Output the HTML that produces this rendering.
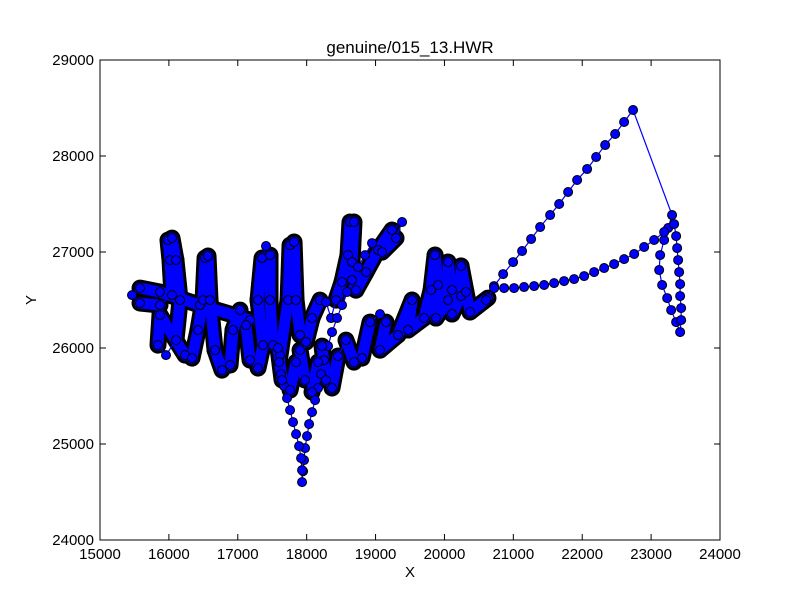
<!DOCTYPE html>
<html><head><meta charset="utf-8"><style>
body{margin:0;background:#fff}
svg text{font-family:"Liberation Sans",sans-serif;fill:#000}
</style></head><body>
<svg id="chart" width="800" height="600" xmlns="http://www.w3.org/2000/svg">
<rect x="0" y="0" width="800" height="600" fill="#fff"/>
<text x="410" y="53" font-size="17" text-anchor="middle">genuine/015_13.HWR</text>
<text x="410" y="577" font-size="15" text-anchor="middle">X</text>
<text x="36" y="300" font-size="15" text-anchor="middle" transform="rotate(-90 36 300)">Y</text>
<g id="plot"></g>
<g id="axes"></g>
</svg>
<script>
const xTicks=[15000,16000,17000,18000,19000,20000,21000,22000,23000,24000];
const yTicks=[24000,25000,26000,27000,28000,29000];
const xs=[17178,16452,15871,15581,15465,15581,15871,16045,16016,15987,16045,16103,16162,16103,15958,15842,15871,
16234,16336,16423,16496,16525,16568,16597,16670,16771,16888,16931,17033,17120,17178,17294,17367,17294,17352,17410,17468,17468,17512,17614,17730,17759,17817,17846,17904,17991,18078,18194,18281,18354,18426,18513,18600,18629,18687,18658,18716,18862,19036,19239,19385,19297,19094,
18949,18848,18746,18658,18586,18513,18441,18368,18310,18252,18209,18165,18122,18078,18035,18005,17977,17962,17948,17933,
17933,17919,17890,17846,17802,17759,17715,17672,17628,17599,17584,
17643,17759,17846,17904,17977,18078,18165,18223,18281,18368,18455,18571,18687,18804,18920,19065,
19152,19065,19326,19530,19472,19704,19806,19864,19907,19878,20052,20052,20110,20110,20241,20241,20313,20371,20632,20719,
20852,20997,21127,21258,21389,21534,21665,21795,21926,22071,22202,22333,22478,22608,22738,
23304,23247,23189,23131,23117,23160,23233,23291,23363,23421,23436,23436,23421,23421,23407,23392,23378,23363,23334,
23189,23044,22899,22754,22608,22463,22318,22173,22028,21882,21737,21592,21447,21302,21156,21011,20866,20721,20604];
const ys=[26291,26447,26582,26624,26551,26468,26447,26551,26916,27124,27145,26916,26499,26082,25926,26030,26343,
25926,25895,26187,26499,26937,26958,26499,25978,25770,25822,26187,26395,26239,25874,25791,26030,26499,26937,27062,26968,26499,26030,25926,26499,27072,27104,26499,26135,26062,26312,26499,26478,26312,26499,26687,26968,27312,27312,26895,26603,26791,27020,27229,27312,27145,26999,
27093,26968,26843,26708,26583,26447,26312,26166,26020,25874,25728,25582,25457,25332,25207,25082,24957,24832,24717,24603,
24728,24853,24978,25103,25228,25353,25478,25603,25728,25853,26000,
25666,25561,25853,25978,25666,25541,25853,26020,25666,25583,25916,26082,25853,25895,26270,26353,
26270,25978,26135,26499,26187,26312,26604,26968,26656,26312,26499,26895,26604,26354,26541,26854,26583,26375,26520,26645,
26770,26895,27010,27135,27260,27385,27500,27625,27750,27864,27989,28114,28229,28354,28479,
27385,27250,27125,26968,26812,26656,26520,26395,26270,26166,26291,26416,26541,26666,26791,26916,27041,27166,27291,
27208,27125,27052,26979,26926,26874,26833,26791,26749,26718,26697,26676,26656,26645,26635,26624,26624,26624,26499];
const NS="http://www.w3.org/2000/svg";
const L=100,R=720,T=60,B=540;
const sx=v=>L+(v-15000)/9000*(R-L);
const sy=v=>B-(v-24000)/5000*(B-T);
const plot=document.getElementById('plot'),axes=document.getElementById('axes');
function mk(tag,attrs,parent){const e=document.createElementNS(NS,tag);for(const k in attrs)e.setAttribute(k,attrs[k]);parent.appendChild(e);return e;}
const n=Math.min(xs.length,ys.length);
const gk=mk('g',{},plot);


const gb=mk('g',{},plot);


for(let i=1;i<n;i++){
  const x1=sx(xs[i-1]),y1=sy(ys[i-1]),x2=sx(xs[i]),y2=sy(ys[i]);
  const d=Math.hypot(x2-x1,y2-y1);
  if(d>19&&d<80){
    mk('line',{x1,y1,x2,y2,stroke:'#000','stroke-width':17,'stroke-linecap':'round'},gk);
    mk('line',{x1,y1,x2,y2,stroke:'#0000ff','stroke-width':11,'stroke-linecap':'round'},gb);
  }
}
let pts='';for(let i=0;i<n;i++)pts+=sx(xs[i])+','+sy(ys[i])+' ';
const line=mk('polyline',{points:pts,fill:'none',stroke:'#0000ff','stroke-width':1.2},plot);


for(let i=0;i<n;i++){
  const c=mk('circle',{cx:sx(xs[i]),cy:sy(ys[i]),r:4.5,fill:'#0000ff',stroke:'#000','stroke-width':1},plot);
  
  
}
const frame=mk('rect',{x:L,y:T,width:R-L,height:B-T,fill:'none',stroke:'#000','stroke-width':1},axes);


xTicks.forEach(v=>{
  const x=sx(v);
  mk('line',{x1:x,y1:B,x2:x,y2:B-6,stroke:'#000'},axes);
  mk('line',{x1:x,y1:T,x2:x,y2:T+6,stroke:'#000'},axes);
  const t=mk('text',{x:x,y:B+19,'font-size':15,'text-anchor':'middle'},axes);
  t.textContent=v;
  
  
});
yTicks.forEach(v=>{
  const y=sy(v);
  mk('line',{x1:L,y1:y,x2:L+6,y2:y,stroke:'#000'},axes);
  mk('line',{x1:R,y1:y,x2:R-6,y2:y,stroke:'#000'},axes);
  const t=mk('text',{x:L-6,y:y+5,'font-size':15,'text-anchor':'end'},axes);
  t.textContent=v;
  
  
});
</script>
</body></html>
